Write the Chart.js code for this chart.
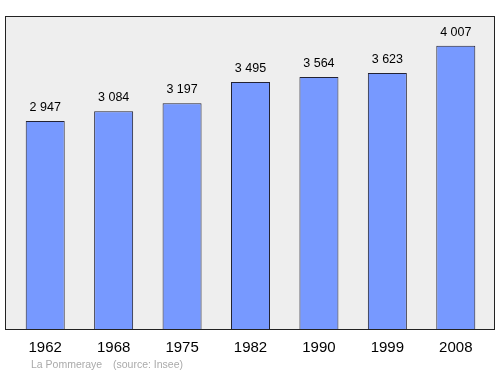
<!DOCTYPE html>
<html>
<head>
<meta charset="utf-8">
<script src="https://cdn.jsdelivr.net/npm/chart.js@4/dist/chart.umd.min.js"></script>
<style>
  html, body { margin: 0; padding: 0; background: #fff; }
  #wrap { width: 500px; height: 374px; position: relative; }
</style>
</head>
<body>
<div id="wrap"><canvas id="popChart"></canvas></div>
<script>
// data
const years = ["1962", "1968", "1975", "1982", "1990", "1999", "2008"];
const population = [2947, 3084, 3197, 3495, 3564, 3623, 4007];
const commune = "La Pommeraye";
const source = "(source: Insee)";

function fmt(v) {
  return String(v).replace(/\B(?=(\d{3})+(?!\d))/g, " ");
}

const FONT = "'Liberation Sans', Arial, sans-serif";

// gray box behind the bars + labels
const decor = {
  id: "decor",
  beforeDatasetsDraw(chart) {
    const ctx = chart.ctx;
    ctx.save();
    ctx.fillStyle = "#eeeeee";
    ctx.fillRect(5.5, 16.5, 489, 313);
    ctx.restore();
  },
  afterDatasetsDraw(chart) {
    const ctx = chart.ctx;
    const x = chart.scales.x;
    const y = chart.scales.y;
    ctx.save();
    ctx.strokeStyle = "#222";
    ctx.lineWidth = 1;
    ctx.strokeRect(5.5, 16.5, 489, 313);

    ctx.fillStyle = "#000";
    ctx.textAlign = "center";
    ctx.textBaseline = "alphabetic";
    ctx.font = "12.5px " + FONT;
    population.forEach((v, i) => {
      ctx.fillText(fmt(v), x.getPixelForValue(i), y.getPixelForValue(v) - 10);
    });

    ctx.font = "15px " + FONT;
    ctx.textBaseline = "middle";
    years.forEach((yr, i) => {
      ctx.fillText(yr, x.getPixelForValue(i), 348);
    });

    ctx.fillStyle = "#aaaaaa";
    ctx.textAlign = "left";
    ctx.font = "10.5px " + FONT;
    ctx.fillText(commune, 31, 365);
    ctx.fillText(source, 113, 365);
    ctx.restore();
  },
};

new Chart(document.getElementById("popChart"), {
  type: "bar",
  data: {
    labels: years,
    datasets: [
      {
        data: population,
        backgroundColor: "#7799ff",
        borderColor: "#222233",
        borderWidth: 1,
        borderSkipped: "bottom",
        barPercentage: 0.57,
        categoryPercentage: 1,
      },
    ],
  },
  options: {
    responsive: true,
    maintainAspectRatio: false,
    animation: false,
    layout: { padding: { left: 11, right: 10, top: 16, bottom: 44 } },
    plugins: {
      legend: { display: false },
      tooltip: { enabled: false },
    },
    scales: {
      x: { display: false, offset: true },
      y: { display: false, min: 0, max: 4425 },
    },
  },
  plugins: [decor],
});
</script>
</body>
</html>
